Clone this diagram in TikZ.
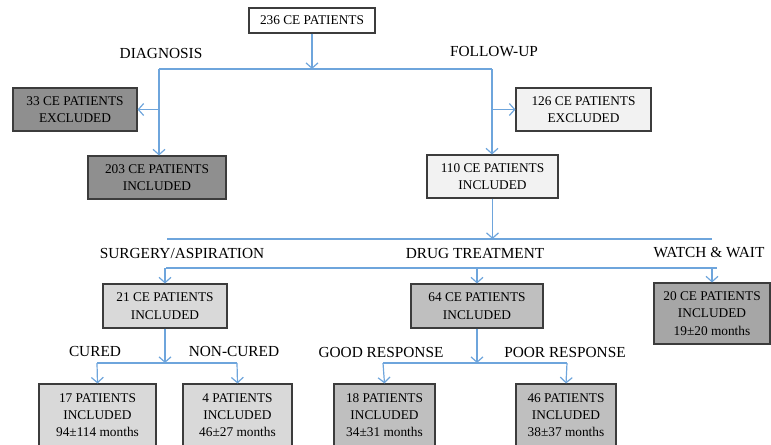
\documentclass[tikz,border=0pt]{standalone}
\usepackage{fontspec}
\setmainfont{Liberation Serif}
\usetikzlibrary{arrows.meta}
\definecolor{linkblue}{RGB}{110,165,220}
\definecolor{boxline}{RGB}{60,60,60}
\definecolor{darkfill}{RGB}{143,143,143}
\definecolor{palefill}{RGB}{242,242,242}
\definecolor{lightfill}{RGB}{217,217,217}
\definecolor{midfill}{RGB}{191,191,191}
\definecolor{waitfill}{RGB}{166,166,166}
\begin{document}
\begin{tikzpicture}[x=0.75pt,y=-0.75pt,
		box/.style={draw=boxline,line width=0.8pt,align=center,inner sep=0pt,font=\fontsize{10}{13}\selectfont},
		lbl/.style={font=\fontsize{11.5}{14}\selectfont},
		bar/.style={draw=linkblue,line width=0.9pt},
		arr/.style={bar,-{Straight Barb[length=4pt,width=9pt]}}]
			\useasboundingbox (0,0) rectangle (771,444);
			\clip (0,0) rectangle (771,444);
			
			\node[box,fill=white,minimum width=94.5pt,minimum height=18.75pt] (b236)at(312,20.5) {236 CE PATIENTS};
			\node[box,fill=darkfill,minimum width=93pt,minimum height=32.25pt] (b33)at(75,109.5) {33 CE PATIENTS\\EXCLUDED};
			\node[box,fill=darkfill,minimum width=103.5pt,minimum height=32.25pt] (b203)at(157,177.5) {203 CE PATIENTS\\INCLUDED};
			\node[box,fill=palefill,minimum width=101.25pt,minimum height=32.25pt] (b126)at(583.5,109.5) {126 CE PATIENTS\\EXCLUDED};
			\node[box,fill=palefill,minimum width=98.25pt,minimum height=32.25pt] (b110)at(492.5,176.5) {110 CE PATIENTS\\INCLUDED};
			\node[box,fill=lightfill,minimum width=93pt,minimum height=33pt] (b21)at(165,306) {21 CE PATIENTS\\INCLUDED};
			\node[box,fill=midfill,minimum width=99pt,minimum height=33pt] (b64)at(477,306) {64 CE PATIENTS\\INCLUDED};
			\node[box,fill=waitfill,minimum width=87pt,minimum height=45.75pt] (b20)at(712,313.5) {20 CE PATIENTS\\INCLUDED\\19±20 months};
			\node[box,fill=lightfill,minimum width=87.75pt,minimum height=46.5pt] (b17)at(97.5,415) {17 PATIENTS\\INCLUDED\\94±114 months};
			\node[box,fill=lightfill,minimum width=81.75pt,minimum height=46.5pt] (b4)at(237.5,415) {4 PATIENTS\\INCLUDED\\46±27 months};
			\node[box,fill=midfill,minimum width=75.75pt,minimum height=46.5pt] (b18)at(384.5,415) {18 PATIENTS\\INCLUDED\\34±31 months};
			\node[box,fill=midfill,minimum width=75pt,minimum height=46.5pt] (b46)at(566,415) {46 PATIENTS\\INCLUDED\\38±37 months};
			
			\node[lbl] (tdiag)at(161,53) {DIAGNOSIS};
			\node[lbl] (tfollow)at(494,52) {FOLLOW-UP};
			\node[lbl] (tsurg)at(182,253) {SURGERY/ASPIRATION};
			\node[lbl] (tdrug)at(475,253) {DRUG TREATMENT};
			\node[lbl] (twait)at(709,253) {WATCH \& WAIT};
			\node[lbl] (tcured)at(95,351) {CURED};
			\node[lbl] (tnoncured)at(234,351) {NON-CURED};
			\node[lbl] (tgood)at(381,352) {GOOD RESPONSE};
			\node[lbl] (tpoor)at(565,352) {POOR RESPONSE};
			
			\coordinate (jl)at(159,69);
			\coordinate (jr)at(492,69);
			\coordinate (ka)at(167,239);
			\coordinate (kb)at(712,239);
			\coordinate (la)at(166,268);
			\coordinate (lb)at(717,268);
			\coordinate (ma)at(97,363);
			\coordinate (mb)at(237,363);
			\coordinate (na)at(383,363);
			\coordinate (nb)at(567,363);
			
			\draw[arr] (b236.south) -- (b236.south |- jl);
			\draw[bar] (jl) -- (jr);
			\draw[arr] (jl) -- (jl |- b203.north);
			\draw[arr] (jl |- b33.east) -- (b33.east);
			\draw[arr] (jr) -- (jr |- b110.north);
			\draw[arr] (jr |- b126.west) -- (b126.west);
			\draw[arr] (b110.south) -- (b110.south |- ka);
			\draw[bar] (ka) -- (kb);
			\draw[bar] (la) -- (lb);
			\draw[arr] (la -| b21.north) -- (b21.north);
			\draw[arr] (la -| b64.north) -- (b64.north);
			\draw[arr] (la -| b20.north) -- (b20.north);
			\draw[arr] (b21.south) -- (b21.south |- ma);
			\draw[bar] (ma) -- (mb);
			\draw[arr] (ma) -- (b17.north);
			\draw[arr] (mb) -- (b4.north);
			\draw[arr] (b64.south) -- (b64.south |- na);
			\draw[bar] (na) -- (nb);
			\draw[arr] (na) -- (b18.north);
			\draw[arr] (nb) -- (b46.north);
		\end{tikzpicture}
\end{document}
